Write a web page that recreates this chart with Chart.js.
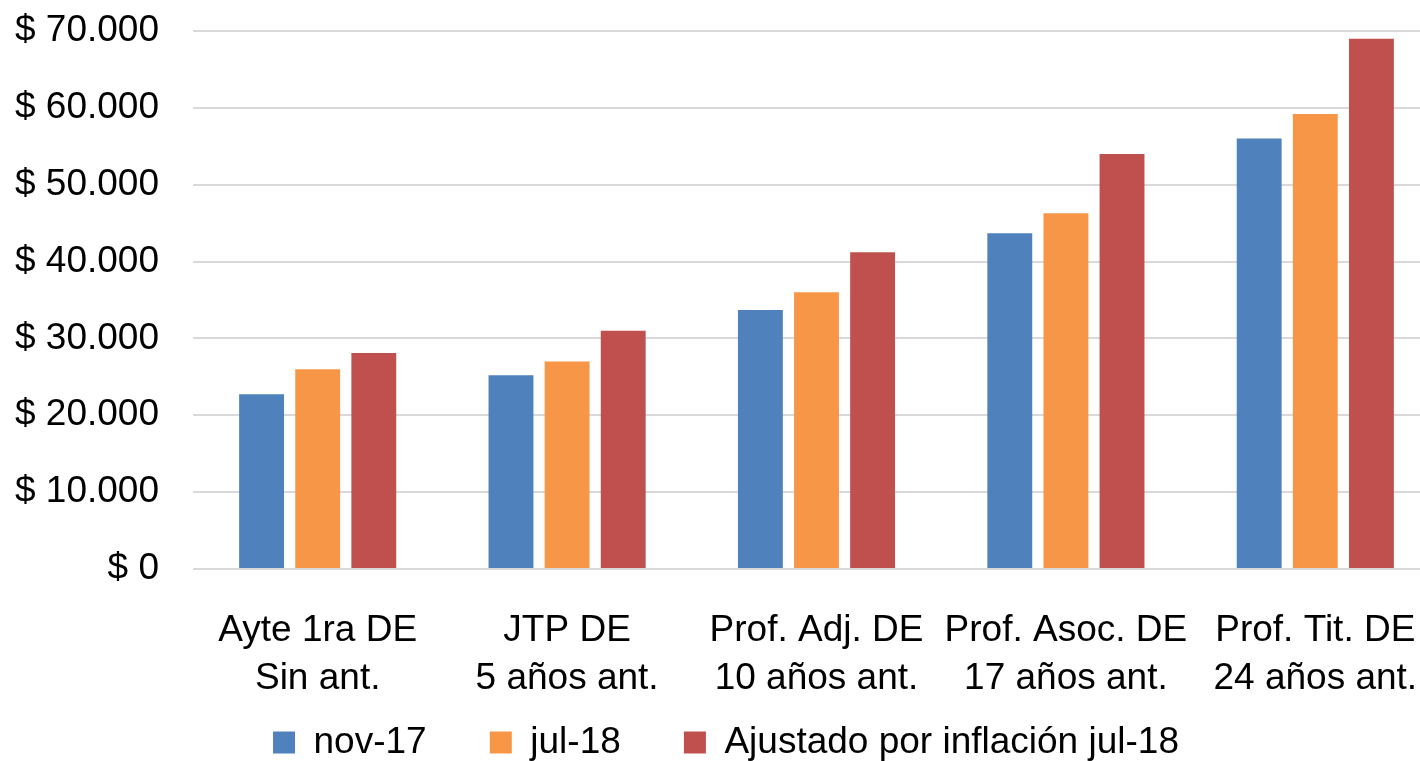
<!DOCTYPE html>
<html>
<head>
<meta charset="utf-8">
<script src="https://cdn.jsdelivr.net/npm/chart.js@4.4.1/dist/chart.umd.min.js"></script>
<style>
  html, body { margin: 0; padding: 0; background: #fff; overflow: hidden; }
  #wrap { width: 1420px; height: 761px; overflow: hidden; }
</style>
</head>
<body>
<div id="wrap"><canvas id="salariosChart" width="1440" height="761"></canvas></div>
<script>
// Categories (two-line labels)
const categories = [
  ['Ayte 1ra DE', 'Sin ant.'],
  ['JTP DE', '5 años ant.'],
  ['Prof. Adj. DE', '10 años ant.'],
  ['Prof. Asoc. DE', '17 años ant.'],
  ['Prof. Tit. DE', '24 años ant.']
];

// Series values
const nov17 = [22750, 25200, 33700, 43700, 56000];
const jul18 = [26000, 27000, 36000, 46300, 59200];
const ajustadoJul18 = [28100, 31000, 41200, 54000, 69000];

// Axis
const yMax = 70000;
const yStep = 10000;

const FONT = '"Liberation Sans", Arial, sans-serif';

function formatPesos(v) {
  return '$ ' + String(v).replace(/\B(?=(\d{3})+(?!\d))/g, '.');
}

const ctx = document.getElementById('salariosChart').getContext('2d');
new Chart(ctx, {
  type: 'bar',
  data: {
    labels: categories,
    datasets: [
      { label: 'nov-17', data: nov17, backgroundColor: '#4f81bd' },
      { label: 'jul-18', data: jul18, backgroundColor: '#f79646' },
      { label: 'Ajustado por inflación jul-18', data: ajustadoJul18, backgroundColor: '#c0504d' }
    ]
  },
  options: {
    responsive: false,
    animation: false,
    categoryPercentage: 0.675,
    barPercentage: 0.8,
    layout: { padding: { left: 12, right: 0, top: 0, bottom: -10 } },
    plugins: {
      tooltip: { enabled: false },
      legend: {
        position: 'bottom',
        labels: {
          color: '#000',
          boxWidth: 22,
          boxHeight: 22,
          padding: 22,
          font: { family: FONT, size: 37 },
          // extra gap after each item, as in the original legend
          generateLabels: chart => {
            const items = Chart.defaults.plugins.legend.labels.generateLabels(chart);
            items.forEach((it, i) => { if (i < items.length - 1) it.text += '    '; });
            return items;
          }
        }
      }
    },
    scales: {
      x: {
        grid: { display: false, drawTicks: false },
        border: { display: false },
        afterFit: s => { s.height = 133; s.paddingLeft = 0; s.paddingRight = 0; },
        ticks: {
          color: '#000',
          padding: 37,
          maxRotation: 0,
          autoSkip: false,
          font: { family: FONT, size: 37, lineHeight: 1.32 }
        }
      },
      y: {
        min: 0,
        max: yMax,
        border: { display: false },
        grid: { color: '#d9d9d9', lineWidth: 2, drawTicks: false },
        afterFit: s => { s.width = 181; s.paddingTop = 31; s.paddingBottom = 0; },
        ticks: {
          stepSize: yStep,
          color: '#000',
          padding: 34,
          font: { family: FONT, size: 37 },
          callback: v => formatPesos(v)
        }
      }
    }
  }
});
</script>
</body>
</html>
